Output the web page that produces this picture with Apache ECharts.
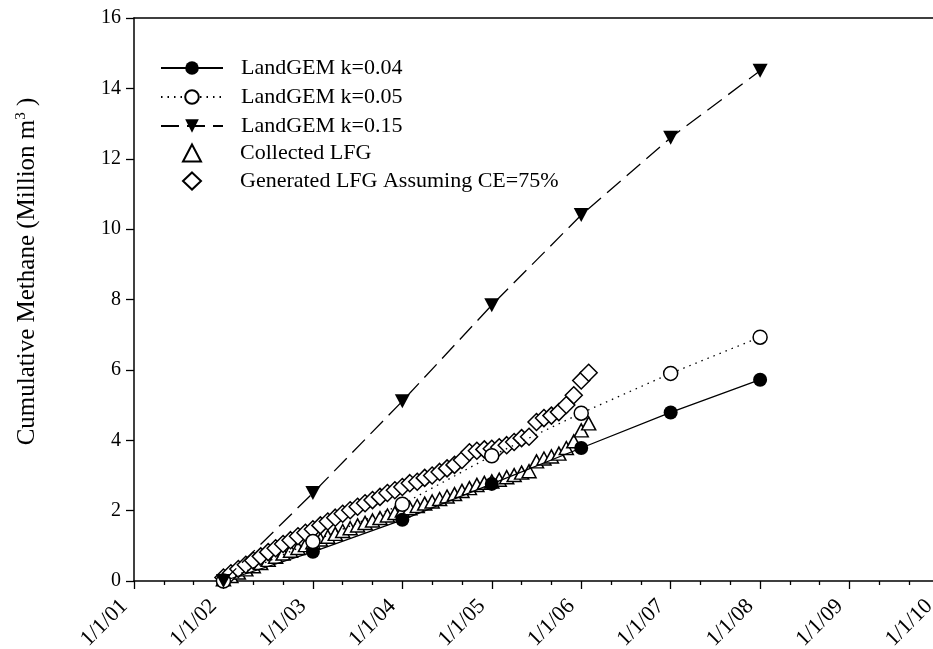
<!DOCTYPE html>
<html>
<head>
<meta charset="utf-8">
<script src="https://cdn.jsdelivr.net/npm/echarts@6/dist/echarts.min.js"></script>
<style>
  html, body { margin: 0; padding: 0; background: #fff; }
  #chart { width: 933px; height: 649px; }
</style>
</head>
<body>
<div id="chart"></div>
<script>
// LandGEM model runs, one value per 1 January
const landgemYears = [2002, 2003, 2004, 2005, 2006, 2007, 2008];
const landgemK004 = [0, 0.83, 1.74, 2.76, 3.78, 4.79, 5.72];
const landgemK005 = [0, 1.12, 2.18, 3.56, 4.77, 5.90, 6.93];
const landgemK015 = [0, 2.50, 5.11, 7.84, 10.40, 12.60, 14.50];

// monthly measurements, Jan 2002 .. Feb 2006
const lfgStartYear = 2002;
const collectedLfg = [
  0.05, 0.14, 0.24, 0.33, 0.42, 0.51, 0.60, 0.69, 0.78, 0.86, 0.94, 1.02,
  1.10, 1.18, 1.26, 1.34, 1.42, 1.50, 1.58, 1.65, 1.72, 1.79, 1.86, 1.93,
  2.00, 2.07, 2.13, 2.20, 2.26, 2.33, 2.40, 2.47, 2.56, 2.64, 2.73, 2.79,
  2.83, 2.88, 2.95, 3.01, 3.08, 3.12, 3.40, 3.48, 3.54, 3.62, 3.78, 3.97,
  4.28, 4.48
];
const generatedLfg = [
  0.10, 0.22, 0.34, 0.46, 0.58, 0.70, 0.82, 0.93, 1.05, 1.16, 1.27, 1.37,
  1.47, 1.58, 1.69, 1.80, 1.91, 2.01, 2.11, 2.21, 2.30, 2.39, 2.50, 2.58,
  2.67, 2.78, 2.82, 2.93, 3.00, 3.10, 3.20, 3.30, 3.44, 3.66, 3.70, 3.74,
  3.76, 3.80, 3.86, 3.95, 4.06, 4.10, 4.52, 4.63, 4.70, 4.80, 5.00, 5.28,
  5.70, 5.92
];

const seriesNames = [
  'LandGEM k=0.04',
  'LandGEM k=0.05',
  'LandGEM k=0.15',
  'Collected LFG',
  'Generated LFG Assuming CE=75%'
];

const font = 'Liberation Serif, Times New Roman, serif';

function yearPairs(values) {
  return values.map((v, i) => [landgemYears[i], v]);
}

function monthPairs(values) {
  return values.map((v, i) => [lfgStartYear + i / 12, v]);
}

const downTriangle = 'path://M0,0 L12,0 L6,11 Z';
const legendText = { fontFamily: font, fontSize: 22, color: '#000' };

let chart = echarts.init(document.getElementById('chart'));

let option = {
  animation: false,
  backgroundColor: '#fff',
  grid: { left: 134, right: -6, top: 18, bottom: 68, containLabel: false, outerBoundsMode: 'none' },
  legend: [{
    orient: 'vertical',
    left: 155,
    top: 52,
    itemWidth: 62,
    itemHeight: 17,
    itemGap: 7,
    data: seriesNames.slice(0, 3),
    textStyle: Object.assign({ padding: [0, 0, 0, 13] }, legendText)
  }, {
    orient: 'vertical',
    left: 177,
    top: 137,
    itemWidth: 18,
    itemHeight: 17,
    itemGap: 6,
    data: seriesNames.slice(3),
    textStyle: Object.assign({ padding: [0, 0, 0, 34] }, legendText)
  }],
  xAxis: [{
    type: 'value',
    min: 2001,
    max: 2010,
    interval: 1,
    axisLine: { lineStyle: { color: '#000', width: 1.5 } },
    axisTick: { length: 8, lineStyle: { color: '#000', width: 1.3 } },
    minorTick: { show: true, splitNumber: 3, length: 4, lineStyle: { color: '#000', width: 1.3 } },
    splitLine: { show: false },
    axisLabel: {
      rotate: 45,
      margin: 12,
      padding: [0, 14, 0, 0],
      fontFamily: font,
      fontSize: 22,
      color: '#000',
      formatter: v => '1/1/' + String(v).slice(2)
    }
  }, {
    type: 'value',
    position: 'top',
    min: 2001,
    max: 2010,
    axisLine: { show: true, onZero: false, lineStyle: { color: '#000', width: 1.5 } },
    axisTick: { show: false },
    axisLabel: { show: false },
    splitLine: { show: false }
  }],
  yAxis: {
    type: 'value',
    min: 0,
    max: 16,
    interval: 2,
    axisLine: { show: true, lineStyle: { color: '#000', width: 1.5 } },
    axisTick: { show: true, length: 8, lineStyle: { color: '#000', width: 1.3 } },
    splitLine: { show: false },
    axisLabel: { margin: 13, fontFamily: font, fontSize: 20, color: '#000' },
    name: '{a|Cumulative Methane (Million m}{sup|3}{a| )}',
    nameLocation: 'middle',
    nameGap: 93,
    nameTextStyle: {
      padding: [0, 0, 0, 56],
      rich: {
        a: { fontFamily: font, fontSize: 25, color: '#000' },
        sup: { fontFamily: font, fontSize: 15, color: '#000', verticalAlign: 'top', padding: [0, 0, 12, 0] }
      }
    }
  },
  series: [{
    name: seriesNames[0],
    type: 'line',
    data: yearPairs(landgemK004),
    symbol: 'circle',
    symbolSize: 14,
    itemStyle: { color: '#000' },
    lineStyle: { color: '#000', width: 1.3 }
  }, {
    name: seriesNames[1],
    type: 'line',
    data: yearPairs(landgemK005),
    symbol: 'circle',
    symbolSize: 14,
    itemStyle: { color: '#fff', borderColor: '#000', borderWidth: 1.5 },
    lineStyle: { color: '#000', width: 1.3, type: [1.5, 5] }
  }, {
    name: seriesNames[2],
    type: 'line',
    data: yearPairs(landgemK015),
    symbol: downTriangle,
    symbolSize: [15, 14],
    itemStyle: { color: '#000' },
    lineStyle: { color: '#000', width: 1.3, type: [18, 8] }
  }, {
    name: seriesNames[3],
    type: 'scatter',
    data: monthPairs(collectedLfg),
    symbol: 'triangle',
    symbolSize: [14, 13],
    itemStyle: { color: '#fff', borderColor: '#000', borderWidth: 1.5, opacity: 1 }
  }, {
    name: seriesNames[4],
    type: 'scatter',
    data: monthPairs(generatedLfg),
    symbol: 'diamond',
    symbolSize: [17, 17],
    itemStyle: { color: '#fff', borderColor: '#000', borderWidth: 1.5, opacity: 1 }
  }]
};

chart.setOption(option);
</script>
</body>
</html>
